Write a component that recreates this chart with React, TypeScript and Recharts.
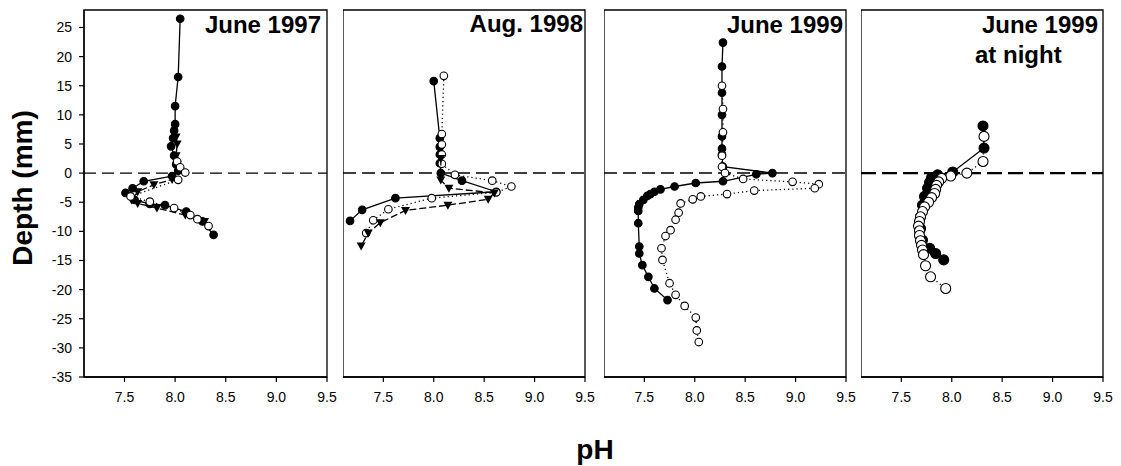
import React from 'react'
import { ScatterChart, Scatter, XAxis, YAxis, ReferenceLine, ReferenceArea } from 'recharts'

type Pt = { ph: number; d: number }

const font = '"Liberation Sans", Arial, Helvetica, sans-serif'

const phTicks = [7.5, 8.0, 8.5, 9.0, 9.5]
const depthTicks = [-35, -30, -25, -20, -15, -10, -5, 0, 5, 10, 15, 20, 25]
const titles = ['June 1997', 'Aug. 1998', 'June 1999', 'June 1999']
const subTitle = 'at night'

// June 1997
const filled97: Pt[] = [
  { ph: 8.05, d: 26.5 }, { ph: 8.03, d: 16.5 }, { ph: 8.0, d: 11.5 }, { ph: 8.0, d: 8.4 },
  { ph: 7.99, d: 7.3 }, { ph: 7.98, d: 6.0 }, { ph: 7.96, d: 4.6 }, { ph: 7.99, d: 3.0 },
  { ph: 8.01, d: 1.5 }, { ph: 8.03, d: 0.4 }, { ph: 7.97, d: -0.5 }, { ph: 7.69, d: -1.4 },
  { ph: 7.58, d: -2.6 }, { ph: 7.51, d: -3.4 }, { ph: 7.6, d: -4.6 }, { ph: 7.75, d: -5.3 },
  { ph: 7.9, d: -5.5 }, { ph: 8.11, d: -6.6 }, { ph: 8.27, d: -8.3 }, { ph: 8.38, d: -10.6 },
]
const open97: Pt[] = [
  { ph: 8.02, d: 2.0 }, { ph: 8.05, d: 1.0 }, { ph: 8.1, d: 0.1 }, { ph: 8.03, d: -1.15 },
  { ph: 7.56, d: -4.0 }, { ph: 7.75, d: -4.9 }, { ph: 7.99, d: -6.0 }, { ph: 8.15, d: -7.2 },
  { ph: 8.22, d: -7.9 }, { ph: 8.33, d: -9.1 },
]
const tri97: Pt[] = [
  { ph: 8.01, d: 6.2 }, { ph: 8.02, d: 5.0 }, { ph: 8.01, d: 3.0 }, { ph: 8.02, d: 1.5 },
  { ph: 7.97, d: -1.1 }, { ph: 7.79, d: -2.0 }, { ph: 7.63, d: -3.2 }, { ph: 7.57, d: -4.6 },
  { ph: 7.63, d: -5.2 }, { ph: 7.82, d: -6.0 }, { ph: 8.1, d: -7.2 }, { ph: 8.29, d: -8.3 },
]

// Aug. 1998
const filled98: Pt[] = [
  { ph: 8.0, d: 15.8 }, { ph: 8.06, d: 6.0 }, { ph: 8.06, d: 4.5 }, { ph: 8.06, d: 3.2 },
  { ph: 8.06, d: 1.7 }, { ph: 8.07, d: 0.0 }, { ph: 8.28, d: -1.3 }, { ph: 8.62, d: -3.2 },
  { ph: 7.62, d: -4.3 }, { ph: 7.29, d: -6.3 }, { ph: 7.17, d: -8.2 },
]
const open98: Pt[] = [
  { ph: 8.1, d: 16.7 }, { ph: 8.08, d: 6.7 }, { ph: 8.08, d: 4.9 }, { ph: 8.08, d: 3.2 },
  { ph: 8.08, d: 1.6 }, { ph: 8.21, d: -0.3 }, { ph: 8.58, d: -1.3 }, { ph: 8.77, d: -2.3 },
  { ph: 8.62, d: -3.3 }, { ph: 7.98, d: -4.3 }, { ph: 7.55, d: -6.2 }, { ph: 7.4, d: -8.1 },
  { ph: 7.33, d: -10.3 },
]
const tri98: Pt[] = [
  { ph: 8.07, d: 2.5 }, { ph: 8.07, d: -1.2 }, { ph: 8.15, d: -2.6 }, { ph: 8.6, d: -3.4 },
  { ph: 8.54, d: -4.5 }, { ph: 8.14, d: -5.5 }, { ph: 7.72, d: -6.4 }, { ph: 7.47, d: -8.5 },
  { ph: 7.35, d: -10.3 }, { ph: 7.28, d: -12.5 },
]

// June 1999
const filled99: Pt[] = [
  { ph: 8.28, d: 22.4 }, { ph: 8.27, d: 18.3 }, { ph: 8.27, d: 13.8 }, { ph: 8.27, d: 10.0 },
  { ph: 8.27, d: 6.3 }, { ph: 8.27, d: 4.2 }, { ph: 8.27, d: 3.2 }, { ph: 8.28, d: 1.1 },
  { ph: 8.77, d: 0.0 }, { ph: 8.61, d: -0.2 }, { ph: 8.28, d: -1.4 }, { ph: 8.01, d: -1.7 },
  { ph: 7.8, d: -2.3 }, { ph: 7.66, d: -2.8 }, { ph: 7.6, d: -3.2 }, { ph: 7.56, d: -3.6 },
  { ph: 7.53, d: -3.9 }, { ph: 7.49, d: -4.6 }, { ph: 7.45, d: -5.3 }, { ph: 7.44, d: -5.9 },
  { ph: 7.44, d: -6.5 }, { ph: 7.44, d: -8.6 }, { ph: 7.45, d: -12.6 }, { ph: 7.45, d: -13.8 },
  { ph: 7.48, d: -15.8 }, { ph: 7.54, d: -17.8 }, { ph: 7.6, d: -19.8 }, { ph: 7.73, d: -21.8 },
]
const open99: Pt[] = [
  { ph: 8.27, d: 15.0 }, { ph: 8.28, d: 11.0 }, { ph: 8.28, d: 7.0 }, { ph: 8.27, d: 3.0 },
  { ph: 8.27, d: 1.1 }, { ph: 8.3, d: 0.0 }, { ph: 8.48, d: -1.0 }, { ph: 8.97, d: -1.5 },
  { ph: 9.23, d: -1.9 }, { ph: 9.19, d: -2.6 }, { ph: 8.59, d: -3.0 }, { ph: 8.32, d: -3.6 },
  { ph: 8.06, d: -4.0 }, { ph: 7.98, d: -4.5 }, { ph: 7.86, d: -5.2 }, { ph: 7.84, d: -6.8 },
  { ph: 7.81, d: -8.0 }, { ph: 7.76, d: -9.8 }, { ph: 7.71, d: -10.8 }, { ph: 7.67, d: -12.9 },
  { ph: 7.68, d: -14.9 }, { ph: 7.75, d: -18.9 }, { ph: 7.81, d: -20.9 }, { ph: 7.9, d: -22.8 },
  { ph: 8.01, d: -24.8 }, { ph: 8.02, d: -27.0 }, { ph: 8.04, d: -29.0 },
]

// June 1999 at night
const filledNight: Pt[] = [
  { ph: 8.31, d: 8.1 }, { ph: 8.32, d: 4.3 }, { ph: 8.01, d: 0.2 }, { ph: 7.86, d: -0.3 },
  { ph: 7.8, d: -0.8 }, { ph: 7.78, d: -1.6 }, { ph: 7.76, d: -2.6 }, { ph: 7.73, d: -4.0 },
  { ph: 7.71, d: -5.5 }, { ph: 7.69, d: -7.5 }, { ph: 7.69, d: -9.5 }, { ph: 7.71, d: -11.5 },
  { ph: 7.78, d: -12.9 }, { ph: 7.84, d: -13.8 }, { ph: 7.92, d: -14.9 },
]
const openNight: Pt[] = [
  { ph: 8.32, d: 6.3 }, { ph: 8.31, d: 2.0 }, { ph: 8.15, d: 0.0 }, { ph: 7.99, d: -0.5 },
  { ph: 7.9, d: -0.9 }, { ph: 7.87, d: -1.5 }, { ph: 7.85, d: -2.1 }, { ph: 7.84, d: -2.8 },
  { ph: 7.83, d: -3.5 }, { ph: 7.8, d: -4.2 }, { ph: 7.77, d: -5.0 }, { ph: 7.73, d: -5.8 },
  { ph: 7.71, d: -6.6 }, { ph: 7.69, d: -7.5 }, { ph: 7.68, d: -8.3 }, { ph: 7.67, d: -9.1 },
  { ph: 7.68, d: -9.9 }, { ph: 7.68, d: -10.7 }, { ph: 7.69, d: -11.6 }, { ph: 7.7, d: -12.4 },
  { ph: 7.71, d: -13.2 }, { ph: 7.72, d: -14.0 }, { ph: 7.74, d: -15.9 }, { ph: 7.79, d: -17.8 },
  { ph: 7.94, d: -19.8 },
]

const dot = (r: number, fill: string) => (p: any) =>
  <circle cx={p.cx} cy={p.cy} r={r} fill={fill} stroke="#000" strokeWidth={1.1} />

const triDown = (p: any) => (
  <path d={`M${p.cx - 4.5},${p.cy - 3.5}L${p.cx + 4.5},${p.cy - 3.5}L${p.cx},${p.cy + 4.5}Z`} fill="#000" />
)

type Series = { data: Pt[]; shape: any; line: any }

const solid = { stroke: '#000', strokeWidth: 1.3 }
const dotted = { stroke: '#000', strokeWidth: 1.3, strokeDasharray: '1.2 3' }
const dashed = { stroke: '#000', strokeWidth: 1.3, strokeDasharray: '7 3' }

const panels: { left: number; width: number; series: Series[]; zeroWidth: number; dash: string }[] = [
  {
    left: 84, width: 243, zeroWidth: 1.4, dash: '12 6',
    series: [
      { data: tri97, shape: triDown, line: dashed },
      { data: filled97, shape: dot(3.8, '#000'), line: solid },
      { data: open97, shape: dot(3.8, '#fff'), line: dotted },
    ],
  },
  {
    left: 343, width: 242, zeroWidth: 1.5, dash: '13 6',
    series: [
      { data: filled98, shape: dot(3.8, '#000'), line: solid },
      { data: open98, shape: dot(3.8, '#fff'), line: dotted },
      { data: tri98, shape: triDown, line: dashed },
    ],
  },
  {
    left: 604, width: 242, zeroWidth: 1.5, dash: '13 6',
    series: [
      { data: filled99, shape: dot(3.8, '#000'), line: solid },
      { data: open99, shape: dot(3.8, '#fff'), line: dotted },
    ],
  },
  {
    left: 861, width: 242, zeroWidth: 2.2, dash: '15 6',
    series: [
      { data: filledNight, shape: dot(5, '#000'), line: solid },
      { data: openNight, shape: dot(5, '#fff'), line: dotted },
    ],
  },
]

const Panel = ({ idx }: { idx: number }) => {
  const p = panels[idx]
  const first = idx === 0
  const yW = first ? 84 : 0
  return (
    <div style={{ position: 'absolute', left: p.left - yW, top: 0 }}>
      <ScatterChart width={yW + p.width + 16} height={417} margin={{ top: 10, right: 16, bottom: 0, left: 0 }}>
        <XAxis
          type="number"
          dataKey="ph"
          domain={[7.1, 9.5]}
          ticks={phTicks}
          interval={0}
          allowDataOverflow
          height={40}
          tickSize={5}
          tickMargin={10}
          tickFormatter={(v: number) => v.toFixed(1)}
          tick={{ fontSize: 14, fill: '#000', fontFamily: font }}
          axisLine={{ stroke: '#000', strokeWidth: 1.3 }}
          tickLine={{ stroke: '#000', strokeWidth: 1.2 }}
        />
        <YAxis
          type="number"
          dataKey="d"
          domain={[-35, 28]}
          ticks={depthTicks}
          interval={0}
          allowDataOverflow
          hide={!first}
          width={yW}
          tickSize={5}
          tickMargin={7}
          tick={{ fontSize: 14, fill: '#000', fontFamily: font }}
          axisLine={{ stroke: '#000', strokeWidth: 1.3 }}
          tickLine={{ stroke: '#000', strokeWidth: 1.2 }}
        />
        <ReferenceArea x1={7.1} x2={9.5} y1={-35} y2={28} fill="none" stroke="#000" strokeWidth={1.3} ifOverflow="visible" />
        <ReferenceLine y={0} stroke="#000" strokeWidth={p.zeroWidth} strokeDasharray={p.dash} />
        {p.series.map((s, i) => (
          <Scatter key={i} data={s.data} shape={s.shape} line={s.line} isAnimationActive={false} />
        ))}
      </ScatterChart>
    </div>
  )
}

export default function App() {
  const titleStyle = { fontSize: 24, fontWeight: 700, fontFamily: font }
  return (
    <div style={{ position: 'absolute', left: 0, top: 0, width: 1121, height: 466, background: '#fff' }}>
      {panels.map((_, i) => <Panel key={i} idx={i} />)}
      <svg width={1121} height={466} style={{ position: 'absolute', left: 0, top: 0, pointerEvents: 'none' }}>
        <text x={321} y={33} textAnchor="end" style={titleStyle}>{titles[0]}</text>
        <text x={583} y={32} textAnchor="end" style={titleStyle}>{titles[1]}</text>
        <text x={843} y={33} textAnchor="end" style={titleStyle}>{titles[2]}</text>
        <text x={1098} y={33} textAnchor="end" style={titleStyle}>{titles[3]}</text>
        <text x={975} y={63} textAnchor="start" style={titleStyle}>{subTitle}</text>
        <text
          x={22}
          y={188}
          transform="rotate(-90 22 188)"
          textAnchor="middle"
          dominantBaseline="central"
          style={{ fontSize: 28, fontWeight: 700, fontFamily: font }}
        >
          Depth (mm)
        </text>
        <text x={595} y={459} textAnchor="middle" style={{ fontSize: 28, fontWeight: 700, fontFamily: font }}>
          pH
        </text>
      </svg>
    </div>
  )
}
